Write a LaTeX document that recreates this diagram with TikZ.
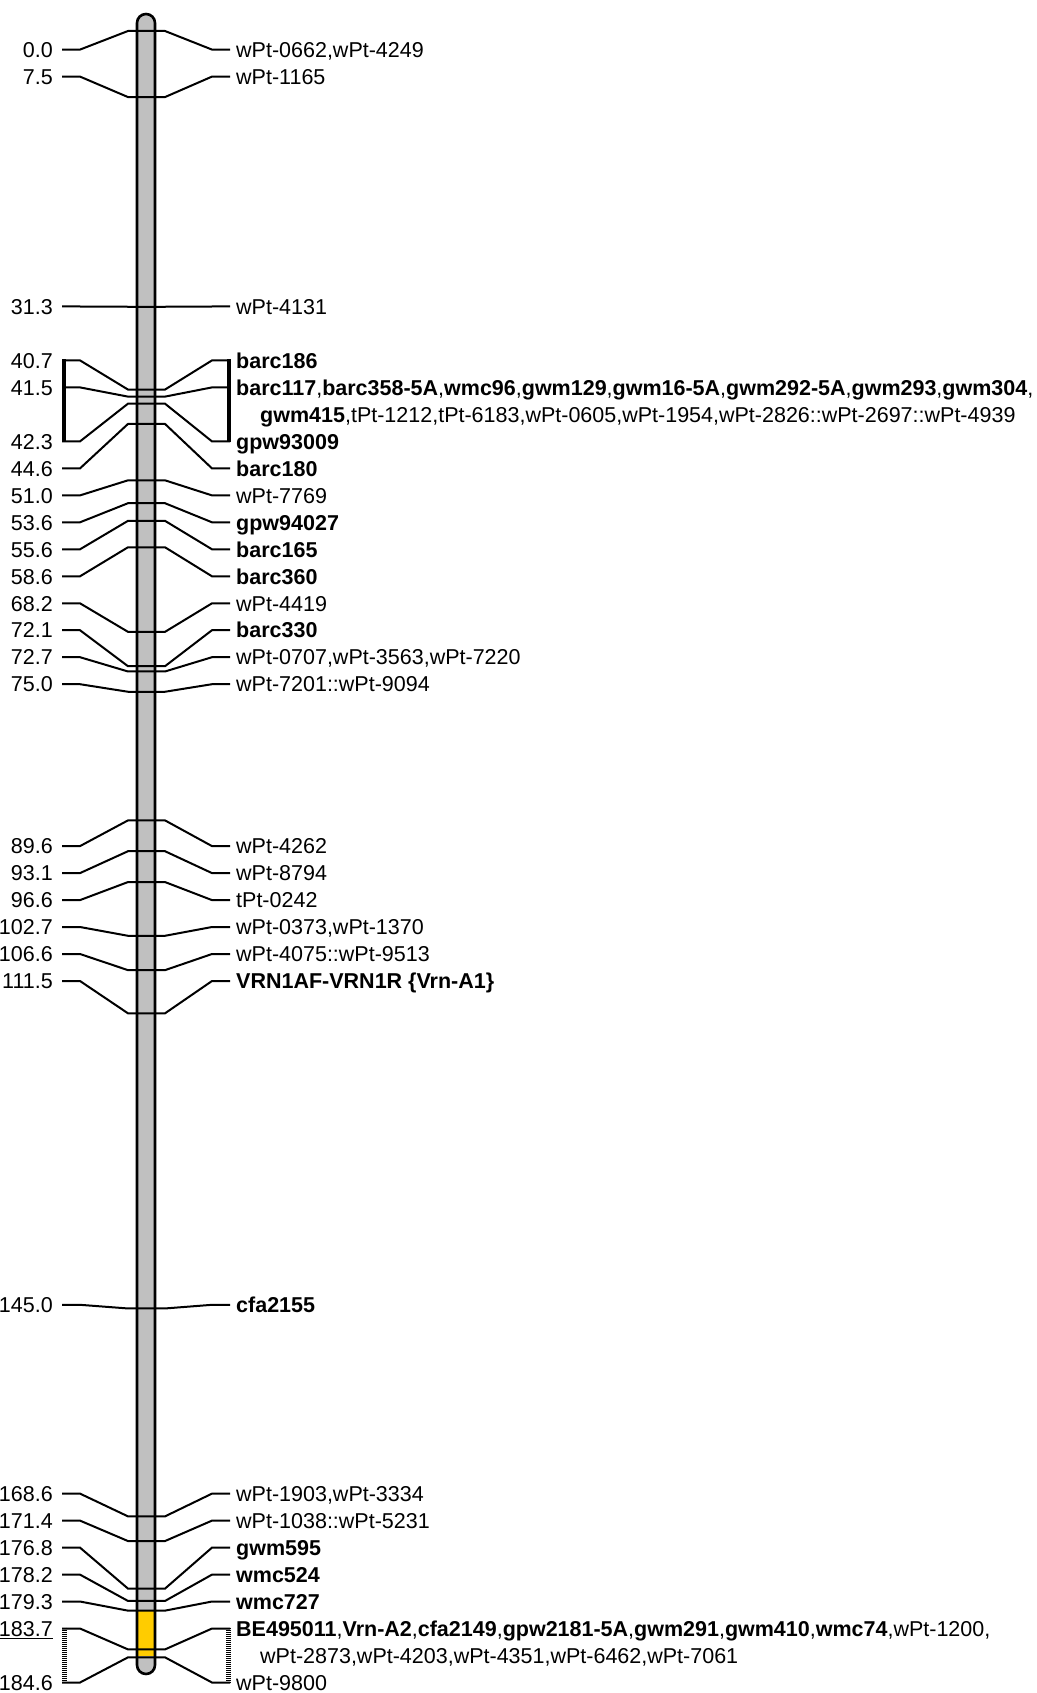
\documentclass[tikz,border=0pt]{standalone}
\usepackage{fontspec}
\setmainfont{Liberation Sans}
\definecolor{chrgray}{HTML}{C0C0C0}
\definecolor{qtl}{HTML}{FFCC00}
\newcommand{\mkr}[5]{%
  \pgfmathsetmacro{\cy}{31+8.81*#1}%
  \node[lab, anchor=base east] (L#5) at (53,#2+7.7) {#3};
  \node[lab, anchor=base west] (R#5) at (236,#2+7.7) {#4};
  \draw[conn] (62,#2) -- (80,#2) -- (128,\cy) -- (165,\cy) -- (212,#2) -- (230,#2);
}
\begin{document}
\begin{tikzpicture}[x=1pt,y=-1pt,
  lab/.style={inner sep=0pt, font=\fontsize{21.5}{26}\selectfont},
  conn/.style={line width=2pt},
  ]
\useasboundingbox[fill=white] (0,0) rectangle (1036,1693);
% chromosome
\fill[chrgray, rounded corners=9pt] (137,14) rectangle (155,1674);
\fill[qtl] (137,1611) rectangle (155,1656);
\draw[line width=2.6pt, rounded corners=9pt] (137,14) rectangle (155,1674);
% markers
\mkr{0.0}{49.6}{0.0}{wPt-0662,wPt-4249}{a}
\mkr{7.5}{76.6}{7.5}{wPt-1165}{b}
\mkr{31.3}{306.5}{31.3}{wPt-4131}{c}
\mkr{40.7}{360.4}{40.7}{\textbf{barc186}}{d}
\mkr{41.5}{387.4}{41.5}{\textbf{barc117},\textbf{barc358-5A},\textbf{wmc96},\textbf{gwm129},\textbf{gwm16-5A},\textbf{gwm292-5A},\textbf{gwm293},\textbf{gwm304},}{e}
\node[lab, anchor=base west] (Re2) at (260,414.4+7.7) {\textbf{gwm415},tPt-1212,tPt-6183,wPt-0605,wPt-1954,wPt-2826::wPt-2697::wPt-4939};
\mkr{42.3}{441.4}{42.3}{\textbf{gpw93009}}{f}
\mkr{44.6}{468.4}{44.6}{\textbf{barc180}}{g}
\mkr{51.0}{495.4}{51.0}{wPt-7769}{h}
\mkr{53.6}{522.3}{53.6}{\textbf{gpw94027}}{i}
\mkr{55.6}{549.3}{55.6}{\textbf{barc165}}{j}
\mkr{58.6}{576.3}{58.6}{\textbf{barc360}}{k}
\mkr{68.2}{603.3}{68.2}{wPt-4419}{l}
\mkr{72.1}{630.2}{72.1}{\textbf{barc330}}{m}
\mkr{72.7}{657.2}{72.7}{wPt-0707,wPt-3563,wPt-7220}{n}
\mkr{75.0}{684.2}{75.0}{wPt-7201::wPt-9094}{o}
\mkr{89.6}{846.1}{89.6}{wPt-4262}{p}
\mkr{93.1}{873.1}{93.1}{wPt-8794}{q}
\mkr{96.6}{900.1}{96.6}{tPt-0242}{r}
\mkr{102.7}{927.0}{102.7}{wPt-0373,wPt-1370}{s}
\mkr{106.6}{954.0}{106.6}{wPt-4075::wPt-9513}{t}
\mkr{111.5}{981.0}{111.5}{\textbf{VRN1AF-VRN1R \{Vrn-A1\}}}{u}
\mkr{145.0}{1304.8}{145.0}{\textbf{cfa2155}}{v}
\mkr{168.6}{1493.6}{168.6}{wPt-1903,wPt-3334}{w}
\mkr{171.4}{1520.6}{171.4}{wPt-1038::wPt-5231}{x}
\mkr{176.8}{1547.6}{176.8}{\textbf{gwm595}}{y}
\mkr{178.2}{1574.6}{178.2}{\textbf{wmc524}}{z}
\mkr{179.3}{1601.5}{179.3}{\textbf{wmc727}}{aa}
\mkr{183.7}{1628.5}{\underline{183.7}}{\textbf{BE495011},\textbf{Vrn-A2},\textbf{cfa2149},\textbf{gpw2181-5A},\textbf{gwm291},\textbf{gwm410},\textbf{wmc74},wPt-1200,}{ab}
\node[lab, anchor=base west] (Rab2) at (260,1655.5+7.7) {wPt-2873,wPt-4203,wPt-4351,wPt-6462,wPt-7061};
\mkr{184.6}{1682.5}{184.6}{wPt-9800}{ac}
% brackets
\draw[line width=4pt] (64,359.4) -- (64,442.4);
\draw[line width=4pt] (229,359.4) -- (229,442.4);
\draw[line width=5pt, dash pattern=on 1pt off 1pt] (64.5,1627.5) -- (64.5,1683.5);
\draw[line width=5pt, dash pattern=on 1pt off 1pt] (228,1627.5) -- (228,1683.5);
\end{tikzpicture}
\end{document}
